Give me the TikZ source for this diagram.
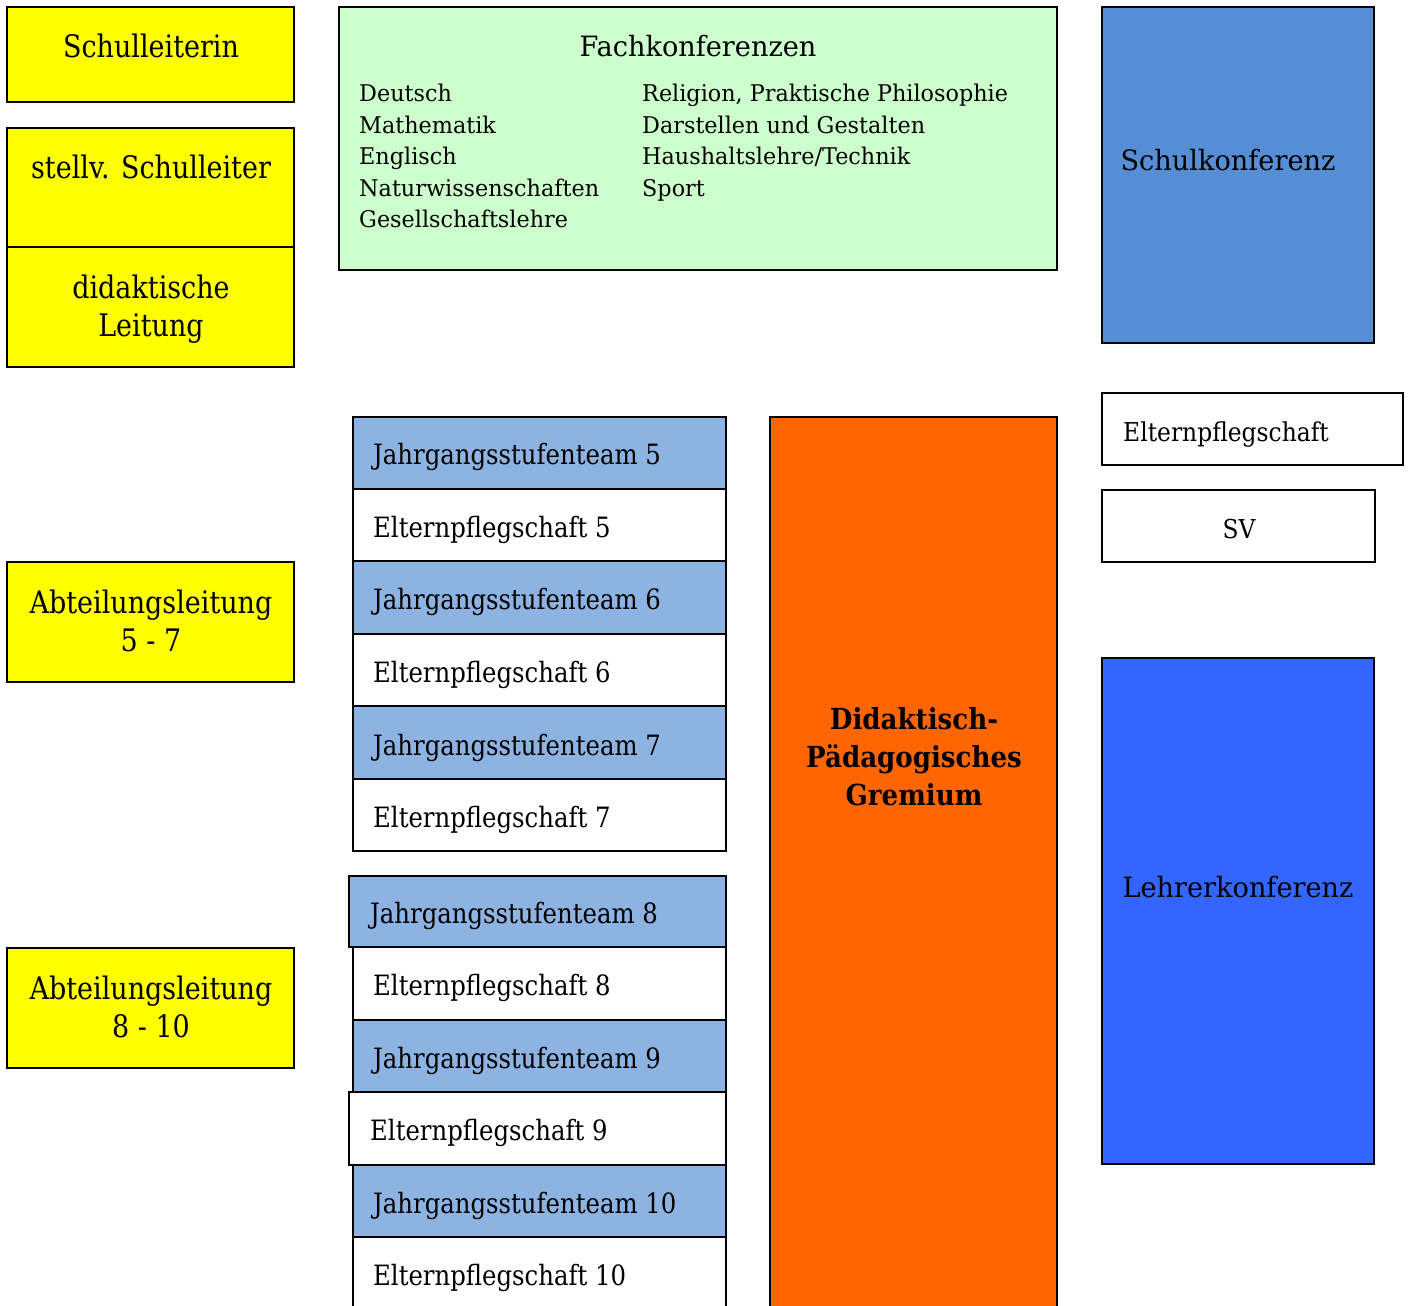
\documentclass[tikz,border=0pt]{standalone}
\usepackage{fontspec}
\setmainfont{DejaVu Serif}[FakeStretch=0.87]
\newfontfamily\fwide{DejaVu Serif}[FakeStretch=0.97]
\newfontfamily\fmed{DejaVu Serif}[FakeStretch=0.9]
\usetikzlibrary{fit}
\definecolor{yel}{HTML}{FFFF00}
\definecolor{grn}{HTML}{CCFFCC}
\definecolor{skblue}{HTML}{558ED5}
\definecolor{jblue}{HTML}{8DB3E2}
\definecolor{orng}{HTML}{FF6600}
\definecolor{lkblue}{HTML}{3366FF}
\tikzset{
  box/.style={draw=black, line width=1.6pt, inner sep=0pt, rectangle},
  big/.style={font=\fontsize{31}{35}\selectfont, anchor=base, inner sep=0pt},
  mid/.style={font=\fontsize{28}{32}\selectfont, anchor=base west, inner sep=0pt},
  small/.style={font=\fwide\fontsize{23}{27}\selectfont, anchor=base west, inner sep=0pt},
  bld/.style={font=\fmed\fontsize{29}{33}\selectfont\bfseries, anchor=base, inner sep=0pt},
}
\begin{document}
\begin{tikzpicture}[x=1pt,y=-1pt]
\useasboundingbox (0,0) rectangle (1409,1306);
% left yellow boxes
\node[box, fill=yel, fit={(7,7) (294,102)}] (sl) {};
\node[big] (tsl) at (151,58) {Schulleiterin};
\node[box, fill=yel, fit={(7,128) (294,247)}] (ssl) {};
\node[big] (tssl) at (151,178) {stellv. Schulleiter};
\node[box, fill=yel, fit={(7,247) (294,367)}] (dl) {};
\node[big] (tdl1) at (151,298) {didaktische};
\node[big] (tdl2) at (151,336) {Leitung};
\node[box, fill=yel, fit={(7,562) (294,682)}] (al1) {};
\node[big] (tal1a) at (151,613) {Abteilungsleitung};
\node[big] (tal1b) at (151,651) {5 - 7};
\node[box, fill=yel, fit={(7,948) (294,1068)}] (al2) {};
\node[big] (tal2a) at (151,999) {Abteilungsleitung};
\node[big] (tal2b) at (151,1037) {8 - 10};
% Fachkonferenzen
\node[box, fill=grn, fit={(339,7) (1057,270)}] (fk) {};
\node[anchor=base, inner sep=0pt, font=\fwide\fontsize{28}{32}\selectfont] (tfk) at (698,57) {Fachkonferenzen};
\node[small] (f1) at (359,102) {Deutsch};
\node[small] (f2) at (359,133) {Mathematik};
\node[small] (f3) at (359,164) {Englisch};
\node[small] (f4) at (359,196) {Naturwissenschaften};
\node[small] (f5) at (359,227) {Gesellschaftslehre};
\node[small] (f6) at (642,102) {Religion, Praktische Philosophie};
\node[small] (f7) at (642,133) {Darstellen und Gestalten};
\node[small] (f8) at (642,164) {Haushaltslehre/Technik};
\node[small] (f9) at (642,196) {Sport};
% right column
\node[box, fill=skblue, fit={(1102,7) (1374,343)}] (sk) {};
\node[anchor=base, inner sep=0pt, font=\fwide\fontsize{28}{32}\selectfont] (tsk) at (1228,170) {Schulkonferenz};
\node[box, fill=white, fit={(1102,393) (1403,465)}] (ep) {};
\node[anchor=base west, inner sep=0pt, font=\fmed\fontsize{26}{30}\selectfont] (tep) at (1123,441) {Elternpflegschaft};
\node[box, fill=white, fit={(1102,490) (1375,562)}] (sv) {};
\node[anchor=base, inner sep=0pt, font=\fmed\fontsize{26}{30}\selectfont] (tsv) at (1239,538) {SV};
\node[box, fill=lkblue, fit={(1102,658) (1374,1164)}] (lk) {};
\node[anchor=base, inner sep=0pt, font=\fwide\fontsize{28}{32}\selectfont] (tlk) at (1238,897) {Lehrerkonferenz};
% orange
\node[box, fill=orng, fit={(770,417) (1057,1312)}] (dpg) {};
\node[bld] (td1) at (914,729) {Didaktisch-};
\node[bld] (td2) at (914,767) {Pädagogisches};
\node[bld] (td3) at (914,805) {Gremium};
% stack 5-7
\node[box, fill=jblue, fit={(353,417) (726,489)}] (j5) {};
\node[mid] (tj5) at (373,464) {Jahrgangsstufenteam 5};
\node[box, fill=white, fit={(353,489) (726,561)}] (e5) {};
\node[mid] (te5) at (373,537) {Elternpflegschaft 5};
\node[box, fill=jblue, fit={(353,561) (726,634)}] (j6) {};
\node[mid] (tj6) at (373,609) {Jahrgangsstufenteam 6};
\node[box, fill=white, fit={(353,634) (726,706)}] (e6) {};
\node[mid] (te6) at (373,682) {Elternpflegschaft 6};
\node[box, fill=jblue, fit={(353,706) (726,779)}] (j7) {};
\node[mid] (tj7) at (373,755) {Jahrgangsstufenteam 7};
\node[box, fill=white, fit={(353,779) (726,851)}] (e7) {};
\node[mid] (te7) at (373,827) {Elternpflegschaft 7};
% stack 8-10
\node[box, fill=jblue, fit={(349,876) (726,947)}] (j8) {};
\node[mid] (tj8) at (370,923) {Jahrgangsstufenteam 8};
\node[box, fill=white, fit={(353,947) (726,1020)}] (e8) {};
\node[mid] (te8) at (373,995) {Elternpflegschaft 8};
\node[box, fill=jblue, fit={(353,1020) (726,1092)}] (j9) {};
\node[mid] (tj9) at (373,1068) {Jahrgangsstufenteam 9};
\node[box, fill=white, fit={(349,1092) (726,1165)}] (e9) {};
\node[mid] (te9) at (370,1140) {Elternpflegschaft 9};
\node[box, fill=jblue, fit={(353,1165) (726,1237)}] (j10) {};
\node[mid] (tj10) at (373,1213) {Jahrgangsstufenteam 10};
\node[box, fill=white, fit={(353,1237) (726,1312)}] (e10) {};
\node[mid] (te10) at (373,1285) {Elternpflegschaft 10};
\end{tikzpicture}
\end{document}
